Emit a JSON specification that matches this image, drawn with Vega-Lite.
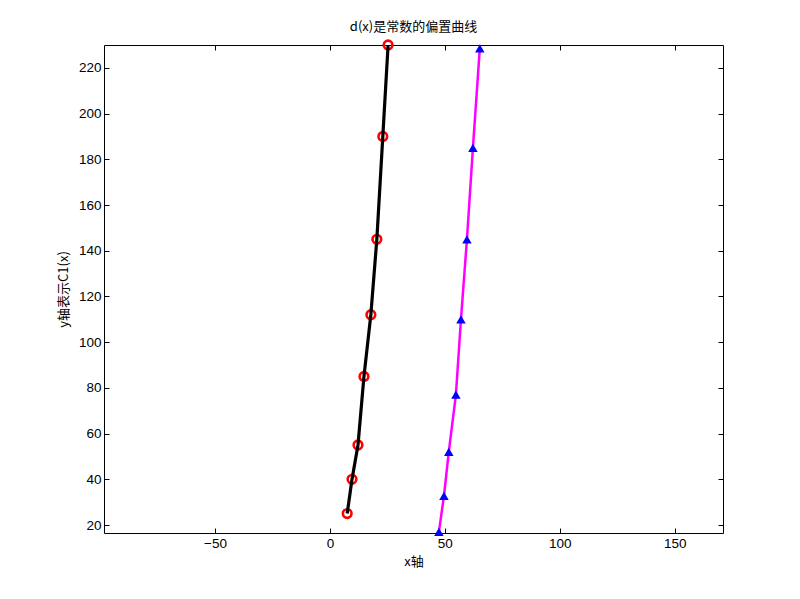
{
  "$schema": "https://vega.github.io/schema/vega-lite/v6.json",
  "width": 619,
  "height": 488,
  "autosize": {"type": "none"},
  "padding": {"left": 104, "top": 45, "right": 77, "bottom": 66},
  "background": "white",
  "title": {"text": "d(x)是常数的偏置曲线", "font": "Noto Sans CJK SC", "fontSize": 13, "fontWeight": "normal", "color": "#000", "offset": 1},
  "config": {
    "view": {"stroke": "#000", "strokeWidth": 1},
    "axis": {"labelFont": "Liberation Sans", "labelFontSize": 13.5, "labelColor": "#000", "domain": false, "grid": false, "tickColor": "#000", "tickSize": -5, "titleFont": "Noto Sans CJK SC", "titleFontSize": 13, "titleFontWeight": "normal", "titleColor": "#000"}
  },
  "data": {"values": [
    {"s": "a", "x": 7.5, "y": 25},
    {"s": "a", "x": 9.6, "y": 40},
    {"s": "a", "x": 12.2, "y": 55},
    {"s": "a", "x": 14.8, "y": 85},
    {"s": "a", "x": 17.8, "y": 112},
    {"s": "a", "x": 20.4, "y": 145},
    {"s": "a", "x": 23, "y": 190},
    {"s": "a", "x": 25.3, "y": 230},
    {"s": "b", "x": 47.4, "y": 17},
    {"s": "b", "x": 49.6, "y": 32.7},
    {"s": "b", "x": 51.7, "y": 52},
    {"s": "b", "x": 54.8, "y": 77},
    {"s": "b", "x": 57, "y": 110},
    {"s": "b", "x": 59.6, "y": 145},
    {"s": "b", "x": 62.2, "y": 185},
    {"s": "b", "x": 65.2, "y": 228.5}
  ]},
  "encoding": {
    "x": {"field": "x", "type": "quantitative", "scale": {"domain": [-98.3, 171], "nice": false, "zero": false}},
    "y": {"field": "y", "type": "quantitative", "scale": {"domain": [16.5, 230], "nice": false, "zero": false}}
  },
  "layer": [
    {
      "transform": [{"filter": "datum.s == 'a'"}],
      "mark": {"type": "point", "shape": "circle", "filled": false, "stroke": "#ff0000", "strokeWidth": 2.6, "size": 75, "opacity": 1},
      "encoding": {
        "x": {"field": "x", "type": "quantitative", "axis": {"orient": "bottom", "values": [-50, 0, 50, 100, 150], "title": "x轴", "labelPadding": 8, "titlePadding": 6}},
        "y": {"field": "y", "type": "quantitative", "axis": {"orient": "left", "values": [20, 40, 60, 80, 100, 120, 140, 160, 180, 200, 220], "title": "y轴表示C1(x)", "labelPadding": 8, "titlePadding": 8}}
      }
    },
    {
      "transform": [{"filter": "datum.s == 'a'"}],
      "mark": {"type": "line", "color": "#000000", "strokeWidth": 3.2},
      "encoding": {
        "order": {"field": "y", "type": "quantitative"},
        "x": {"field": "x", "type": "quantitative", "axis": {"orient": "top", "values": [-50, 0, 50, 100, 150], "labels": false, "title": null}},
        "y": {"field": "y", "type": "quantitative", "axis": {"orient": "right", "values": [20, 40, 60, 80, 100, 120, 140, 160, 180, 200, 220], "labels": false, "title": null}}
      }
    },
    {
      "transform": [{"filter": "datum.s == 'b'"}],
      "mark": {"type": "line", "color": "#ff00ff", "strokeWidth": 2.5},
      "encoding": {
        "order": {"field": "y", "type": "quantitative"},
        "x": {"field": "x", "type": "quantitative", "axis": null},
        "y": {"field": "y", "type": "quantitative", "axis": null}
      }
    },
    {
      "transform": [{"filter": "datum.s == 'b'"}],
      "mark": {"type": "point", "shape": "triangle-up", "filled": true, "fill": "#0000ff", "size": 90, "opacity": 1},
      "encoding": {
        "x": {"field": "x", "type": "quantitative", "axis": null},
        "y": {"field": "y", "type": "quantitative", "axis": null}
      }
    }
  ],
  "resolve": {"axis": {"x": "independent", "y": "independent"}}
}
